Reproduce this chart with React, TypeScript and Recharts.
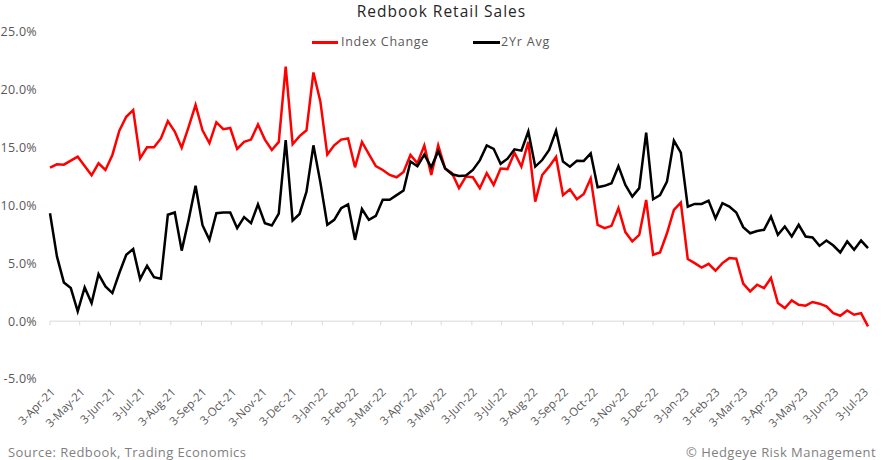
import React from "react";
import { LineChart, Line, XAxis, YAxis, ReferenceLine } from "recharts";

const startDate = Date.UTC(2021, 3, 3);
const DAY = 86400000;

const indexChange = [
  13.27, 13.56, 13.53, 13.88, 14.22, 13.42, 12.61, 13.65, 13.07, 14.37,
  16.46, 17.67, 18.25, 14.08, 15.03, 15.03, 15.8, 17.3, 16.4, 15.0,
  16.8, 18.7, 16.5, 15.4, 17.2, 16.6, 16.7, 14.9, 15.5, 15.7,
  17.0, 15.7, 14.8, 15.5, 22.0, 15.3, 16.0, 16.5, 21.5, 19.0,
  14.4, 15.2, 15.7, 15.8, 13.3, 15.5, 14.45, 13.4, 13.07, 12.64,
  12.44, 12.9, 14.37, 13.65, 15.2, 12.64, 15.2, 13.2, 12.8, 11.5,
  12.5, 12.44, 11.5, 12.8, 11.78, 13.2, 13.15, 14.57, 13.36, 15.5,
  10.34, 12.64, 13.36, 14.2, 10.9, 11.4, 10.54, 11.0, 12.35, 8.33,
  8.04, 8.24, 9.77, 7.7, 6.89, 7.46, 10.48, 5.74, 5.94, 7.6,
  9.62, 10.25, 5.37, 5.02, 4.64, 4.96, 4.36, 5.02, 5.45, 5.4,
  3.24, 2.57, 3.15, 2.86, 3.73, 1.57, 1.14, 1.8, 1.42, 1.34,
  1.66, 1.51, 1.28, 0.7, 0.47, 0.93, 0.56, 0.7, -0.45,
];

const twoYrAvg = [
  9.33, 5.6, 3.35, 2.86, 0.85, 2.92, 1.57, 4.07, 3.0, 2.43,
  4.16, 5.74, 6.23, 3.64, 4.79, 3.81, 3.67, 9.2, 9.4, 6.1,
  8.76, 11.7, 8.3, 7.03, 9.33, 9.4, 9.4, 8.04, 9.0, 8.47,
  10.1, 8.47, 8.27, 9.3, 15.66, 8.7, 9.27, 11.2, 15.2, 12.0,
  8.33, 8.76, 9.76, 10.1, 7.03, 9.7, 8.76, 9.1, 10.5, 10.5,
  10.9, 11.3, 13.8, 13.4, 14.4, 13.3, 14.7, 13.2, 12.7, 12.55,
  12.6, 13.07, 13.9, 15.2, 14.9, 13.6, 14.05, 14.86, 14.74, 16.4,
  13.36, 13.93, 14.8, 16.46, 13.8, 13.36, 13.87, 13.85, 14.5, 11.58,
  11.7, 11.92, 13.4, 11.78, 10.77, 11.5, 16.3, 10.54, 10.9, 12.06,
  15.6, 14.57, 9.9, 10.14, 10.14, 10.42, 8.9, 10.2, 9.9, 9.4,
  8.13, 7.6, 7.8, 7.9, 9.04, 7.46, 8.18, 7.32, 8.33, 7.32,
  7.23, 6.51, 6.97, 6.54, 5.94, 6.89, 6.17, 6.97, 6.31,
];

const tickLabels = [
  "3-Apr-21", "3-May-21", "3-Jun-21", "3-Jul-21", "3-Aug-21", "3-Sep-21", "3-Oct-21",
  "3-Nov-21", "3-Dec-21", "3-Jan-22", "3-Feb-22", "3-Mar-22", "3-Apr-22", "3-May-22",
  "3-Jun-22", "3-Jul-22", "3-Aug-22", "3-Sep-22", "3-Oct-22", "3-Nov-22", "3-Dec-22",
  "3-Jan-23", "3-Feb-23", "3-Mar-23", "3-Apr-23", "3-May-23", "3-Jun-23", "3-Jul-23",
];

const yTicks = [-5, 0, 5, 10, 15, 20, 25];

const MONTHS = ["Jan","Feb","Mar","Apr","May","Jun","Jul","Aug","Sep","Oct","Nov","Dec"];
const parseLabel = (s: string) => {
  const [d, m, y] = s.split("-");
  return Date.UTC(2000 + Number(y), MONTHS.indexOf(m), Number(d));
};
const tickValues = tickLabels.map(parseLabel);
const labelByTime: Record<number, string> = {};
tickLabels.forEach((l, i) => (labelByTime[tickValues[i]] = l));

const data = indexChange.map((v, i) => ({
  t: startDate + i * 7 * DAY,
  index: v,
  avg: twoYrAvg[i],
}));
const domainX = [data[0].t, data[data.length - 1].t];

const FONT = "'Open Sans', Roboto, sans-serif";
const GRAY = "#595959";

const XTick = (props: any) => {
  const { x, y, payload } = props;
  return (
    <g transform={`translate(${x + 3},${y})`}>
      <text
        x={0}
        y={0}
        dy={4}
        textAnchor="end"
        transform="rotate(-45)"
        fill={GRAY}
        fontSize={11.5}
        fontFamily={FONT}
      >
        {labelByTime[payload.value]}
      </text>
    </g>
  );
};

export default function App() {
  return (
    <div
      style={{
        position: "absolute",
        left: 0,
        top: 0,
        width: 883,
        height: 460,
        background: "#fff",
        fontFamily: FONT,
      }}
    >
      <div
        style={{
          position: "absolute",
          left: 0,
          width: 883,
          top: 1,
          textAlign: "center",
          fontSize: 15.5,
          letterSpacing: 1,
          color: "#262626",
          lineHeight: "20px",
        }}
      >
        Redbook Retail Sales
      </div>
      <div style={{ position: "absolute", left: 312, top: 41, width: 26, height: 3, background: "#ff0000" }} />
      <div style={{ position: "absolute", left: 341, top: 33, fontSize: 12.5, letterSpacing: 0.7, color: GRAY, lineHeight: "17px" }}>
        Index Change
      </div>
      <div style={{ position: "absolute", left: 473, top: 41, width: 27, height: 3, background: "#000" }} />
      <div style={{ position: "absolute", left: 501, top: 33, fontSize: 12.5, letterSpacing: 0.8, color: GRAY, lineHeight: "17px" }}>
        2Yr Avg
      </div>
      <LineChart
        width={883}
        height={460}
        data={data}
        margin={{ top: 32, right: 15, bottom: 21, left: 0 }}
      >
        <XAxis
          dataKey="t"
          type="number"
          scale="linear"
          domain={domainX}
          ticks={tickValues}
          interval={0}
          axisLine={false}
          tickLine={false}
          tickSize={0}
          tickMargin={11}
          height={60}
          tick={<XTick />}
        />
        <YAxis
          type="number"
          domain={[-5, 25]}
          ticks={yTicks}
          interval={0}
          width={50}
          axisLine={false}
          tickLine={false}
          tickSize={0}
          tickMargin={13}
          tick={{ fill: GRAY, fontSize: 12.5, fontFamily: FONT, letterSpacing: 0.3 }}
          tickFormatter={(v: number) => v.toFixed(1) + "%"}
        />
        <ReferenceLine y={0} stroke="#d9d9d9" strokeWidth={1} />
        {tickValues.map((t) => (
          <ReferenceLine
            key={t}
            segment={[
              { x: t, y: 0 },
              { x: t, y: -0.35 },
            ]}
            stroke="#d9d9d9"
            strokeWidth={1}
            ifOverflow="visible"
          />
        ))}
        <Line
          type="linear"
          dataKey="index"
          stroke="#ff0000"
          strokeWidth={2.5}
          dot={false}
          isAnimationActive={false}
        />
        <Line
          type="linear"
          dataKey="avg"
          stroke="#000000"
          strokeWidth={2.5}
          dot={false}
          isAnimationActive={false}
        />
      </LineChart>
      <div style={{ position: "absolute", left: 8, top: 443, fontSize: 13, letterSpacing: 0.45, color: "#7f7f7f", lineHeight: "18px" }}>
        Source: Redbook, Trading Economics
      </div>
      <div style={{ position: "absolute", right: 7, top: 443, fontSize: 13, letterSpacing: 0.45, color: "#7f7f7f", lineHeight: "18px" }}>
        © Hedgeye Risk Management
      </div>
    </div>
  );
}
